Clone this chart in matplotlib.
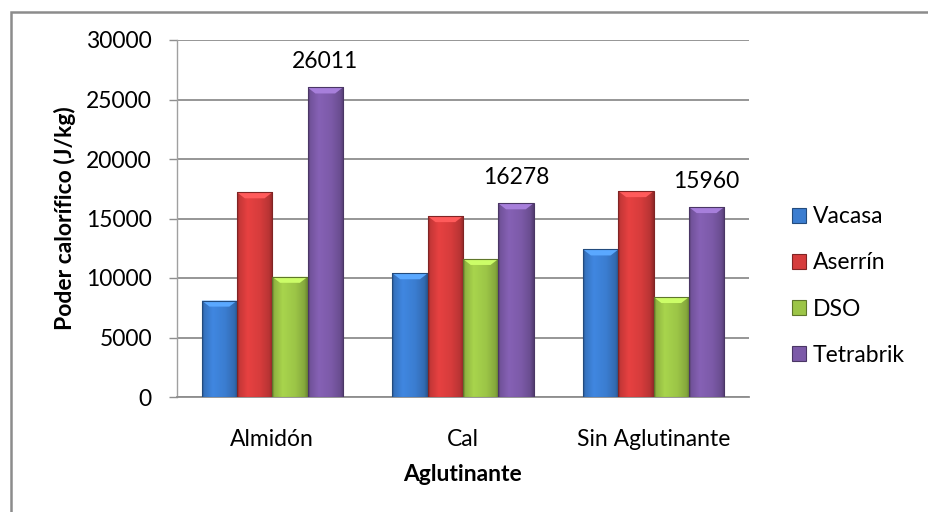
import numpy as np
import matplotlib
matplotlib.use("Agg")
import matplotlib.pyplot as plt
from matplotlib.patches import Rectangle, Polygon, Patch
from matplotlib.colors import to_rgb

# Data
categories = ["Almidón", "Cal", "Sin Aglutinante"]
series_names = ["Vacasa", "Aserrín", "DSO", "Tetrabrik"]
vacasa = [8100, 10400, 12400]
aserrin = [17200, 15200, 17300]
dso = [10100, 11600, 8400]
tetrabrik = [26011, 16278, 15960]
y_ticks = [0, 5000, 10000, 15000, 20000, 25000, 30000]

series_values = [vacasa, aserrin, dso, tetrabrik]
series_colors = ["#3b7dd0", "#d63c3c", "#9cc547", "#7c5aa8"]

plt.rcParams["font.family"] = ["Lato", "DejaVu Sans"]
FS = 16.5

W, H = 929, 512
fig = plt.figure(figsize=(W / 100, H / 100), dpi=100)
ax = fig.add_axes([177 / W, 1 - 397 / H, (749 - 177) / W, (397 - 40) / H])

bar_w = 0.185
x = np.arange(len(categories))

ax.set_xlim(-0.5, len(categories) - 0.5)
ax.set_ylim(0, 30000)

# horizontal shading profile across each bar (bevelled look)
prof_t = [0.0, 0.06, 0.3, 0.65, 0.9, 1.0]
prof_f = [0.70, 0.92, 1.08, 1.0, 0.86, 0.68]
tt = np.linspace(0, 1, 64)
shade = np.interp(tt, prof_t, prof_f)

# pixel -> data scale for the top bevel
px_h = ax.get_position().height * H
bevel_dy = 6 / px_h * 30000

for i, (vals, col) in enumerate(zip(series_values, series_colors)):
    base = np.array(to_rgb(col))
    dark = np.clip(base * 0.6, 0, 1)
    grad = np.clip(base[None, :] * shade[:, None], 0, 1)[None, :, :]
    for j, v in enumerate(vals):
        x0 = x[j] - 2 * bar_w + i * bar_w
        x1 = x0 + bar_w
        rect = Rectangle((x0, 0), bar_w, v, facecolor=col,
                         edgecolor="none", zorder=3)
        ax.add_patch(rect)
        im = ax.imshow(grad, extent=[x0, x1, 0, v], aspect="auto",
                       interpolation="bilinear", zorder=3.1)
        im.set_clip_path(rect)
        light = np.clip(base * 1.18 + 0.08, 0, 1)
        dx = bar_w * 0.22
        bev = Polygon([(x0, v), (x1, v), (x1 - dx, v - bevel_dy),
                       (x0 + dx, v - bevel_dy)], closed=True,
                      facecolor=light, edgecolor="none", zorder=3.2)
        ax.add_patch(bev)
        edge = Rectangle((x0, 0), bar_w, v, facecolor="none",
                         edgecolor=dark, lw=0.8, zorder=3.3)
        ax.add_patch(edge)

ax.set_xlim(-0.5, len(categories) - 0.5)
ax.set_ylim(0, 30000)

# value labels above the Tetrabrik bars
for j, v in enumerate(tetrabrik):
    xc = x[j] - 2 * bar_w + 3 * bar_w + bar_w / 2
    ax.annotate(f"{v}", (xc, v), xytext=(0, 18.5), textcoords="offset points",
                ha="center", va="center", fontsize=FS, color="#000000")

ax.set_yticks(y_ticks)
ax.set_yticklabels([str(t) for t in y_ticks])
ax.set_xticks(x)
ax.set_xticklabels(categories)
ax.yaxis.grid(True, color="#8e8e8e", lw=1.3)
ax.set_axisbelow(True)
for s in ["top", "right"]:
    ax.spines[s].set_visible(False)
ax.spines["left"].set_color("#a0a0a0")
ax.spines["bottom"].set_color("#8e8e8e")
ax.spines["left"].set_linewidth(1.0)
ax.spines["bottom"].set_linewidth(1.3)
ax.tick_params(axis="y", length=6, width=1, color="#8e8e8e", pad=12,
               labelsize=FS)
ax.tick_params(axis="x", length=0, pad=23, labelsize=FS)

ax.set_ylabel("Poder calorífico (J/kg)", fontsize=FS, fontweight="bold",
              labelpad=7)
ax.set_xlabel("Aglutinante", fontsize=FS, fontweight="bold", labelpad=10)

handles = [Patch(facecolor=c, edgecolor=np.clip(np.array(to_rgb(c)) * 0.6, 0, 1),
                 lw=0.8) for c in series_colors]
fig.legend(handles, series_names, loc="center left",
           bbox_to_anchor=(792 / W, 1 - 286 / H), frameon=False,
           fontsize=FS, handlelength=0.62, handleheight=0.62,
           handletextpad=0.3, labelspacing=1.1, borderpad=0,
           borderaxespad=0)

# chart-area border
fig.add_artist(Rectangle((11.5 / W, -0.1), 1.2, 1.1 - 11.5 / H,
                         transform=fig.transFigure, fill=False,
                         edgecolor="#8c8c8c", lw=1.8))

fig.savefig("out.png", dpi=100)
